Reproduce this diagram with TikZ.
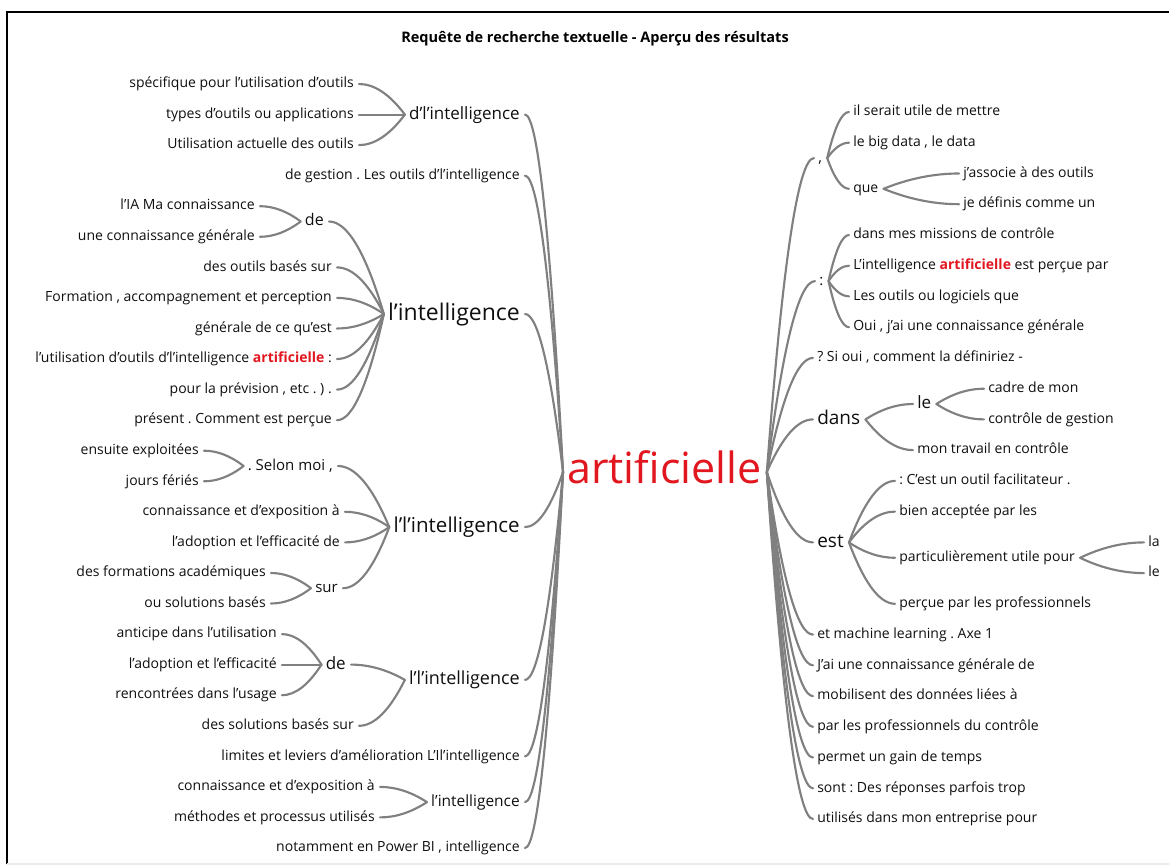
\documentclass[tikz,border=0pt]{standalone}
\usepackage{fontspec}
\setmainfont{Open Sans}
\usetikzlibrary{calc}
\definecolor{con}{RGB}{128,128,128}
\definecolor{txt}{RGB}{15,15,15}
\definecolor{hot}{RGB}{226,22,30}
\newcommand\hlw{\textcolor{hot}{\bfseries artificielle}}
% left link: #1 parent, #2 child (child on the left); quadratic curve
\newcommand\Lk[2]{\draw[conn] let \p1=($(#2.east)+(5,0)$), \p2=($(#1.west)+(-4,0)$) in (\p1) .. controls ({\x1+(\x2-\x1)/3},\y1) and ({\x2-(\x2-\x1)/3},{\y2+2*(\y1-\y2)/3}) .. (\p2);}
% right link: #1 parent, #2 child (child on the right); quadratic curve
\newcommand\Rk[2]{\draw[conn] let \p1=($(#1.east)+(5,0)$), \p2=($(#2.west)+(-4,0)$) in (\p1) .. controls ({\x1+(\x2-\x1)/3},{\y1+2*(\y2-\y1)/3}) and ({\x2-(\x2-\x1)/3},\y2) .. (\p2);}
\begin{document}
\frenchspacing
\begin{tikzpicture}[x=0.75pt,y=-0.75pt,
  every node/.style={inner sep=0pt, text depth=0pt, text=txt},
  conn/.style={draw=con, line width=1.6pt, line cap=round},
  lf/.style={font=\fontsize{10.5pt}{12pt}\selectfont, text height=5.6pt},
  m15/.style={font=\fontsize{11.25pt}{13pt}\selectfont, text height=6pt},
  m155/.style={font=\fontsize{11.6pt}{13pt}\selectfont, text height=6.2pt},
  m16/.style={font=\fontsize{12pt}{14pt}\selectfont, text height=6.4pt},
  m17/.style={font=\fontsize{12.75pt}{14pt}\selectfont, text height=6.8pt},
  m18/.style={font=\fontsize{13.5pt}{15pt}\selectfont, text height=7.2pt},
  m19/.style={font=\fontsize{14.25pt}{16pt}\selectfont, text height=7.6pt},
  m20/.style={font=\fontsize{15.4pt}{17pt}\selectfont, text height=8.2pt},
  m23/.style={font=\fontsize{17.25pt}{19pt}\selectfont, text height=9.2pt},
  big/.style={font=\fontsize{32.25pt}{36pt}\selectfont, text height=17.3pt, text=hot},
  ttl/.style={font=\bfseries\fontsize{10.9pt}{13pt}\selectfont, text=black},
  le/.style={anchor=east},
  ri/.style={anchor=west}]
\useasboundingbox (0,0) rectangle (1169,866);
% frame
\draw[black, line width=1.2pt] (7,864) coordinate (fb) -- (7,12) coordinate (ftl) -- (1169,12) coordinate (ftr);
\draw[black!8, line width=0.8pt] (fb) -- (1169,864);
% title
\node[ttl] (title) at (595,37) {Requête de recherche textuelle - Aperçu des résultats};
% centre
\node[big, ri] (C) at (567,472) {artificielle};

% ---------------- left side ----------------
\node[m17, le] (L1) at (520,114.6) {d'l'intelligence};
\node[lf, le] (L1a) at (354,84.0) {spécifique pour l'utilisation d'outils};
\node[lf, le] (L1b) at (354,114.6) {types d'outils ou applications};
\node[lf, le] (L1c) at (354,145.1) {Utilisation actuelle des outils};
\node[lf, le] (L2) at (520,175.7) {de gestion . Les outils d'l'intelligence};

\node[m23, le] (L3) at (520,314) {l'intelligence};
\node[m16, le] (L3a) at (324,221.5) {de};
\node[lf, le] (L3a1) at (255,206.2) {l'IA Ma connaissance};
\node[lf, le] (L3a2) at (255,236.8) {une connaissance générale};
\node[lf, le] (L3b) at (332,267.4) {des outils basés sur};
\node[lf, le] (L3c) at (332,297.9) {Formation , accompagnement et perception};
\node[lf, le] (L3d) at (332,328.5) {générale de ce qu'est};
\node[lf, le] (L3e) at (332,359.0) {l'utilisation d'outils d'l'intelligence \hlw\ :};
\node[lf, le] (L3f) at (332,389.6) {pour la prévision , etc . ) .};
\node[lf, le] (L3g) at (332,420.2) {présent . Comment est perçue};

\node[m20, le] (L4) at (520,527.1) {l'l'intelligence};
\node[m15, le] (L4a) at (333,466.0) {. Selon moi ,};
\node[lf, le] (L4a1) at (199,450.7) {ensuite exploitées};
\node[lf, le] (L4a2) at (199,481.3) {jours fériés};
\node[lf, le] (L4b) at (340,511.8) {connaissance et d'exposition à};
\node[lf, le] (L4c) at (340,542.4) {l'adoption et l'efficacité de};
\node[m15, le] (L4d) at (338,588.2) {sur};
\node[lf, le] (L4d1) at (266,573.0) {des formations académiques};
\node[lf, le] (L4d2) at (266,603.5) {ou solutions basés};

\node[m18, le] (L5) at (520,679.9) {l'l'intelligence};
\node[m17, le] (L5a) at (346,664.6) {de};
\node[lf, le] (L5a1) at (277,634.1) {anticipe dans l'utilisation};
\node[lf, le] (L5a2) at (277,664.6) {l'adoption et l'efficacité};
\node[lf, le] (L5a3) at (277,695.2) {rencontrées dans l'usage};
\node[lf, le] (L5b) at (354,725.8) {des solutions basés sur};

\node[lf, le] (L6) at (520,756.3) {limites et leviers d'amélioration L'Il'intelligence};
\node[m155, le] (L7) at (520,802.1) {l'intelligence};
\node[lf, le] (L7a) at (375,786.9) {connaissance et d'exposition à};
\node[lf, le] (L7b) at (375,817.4) {méthodes et processus utilisés};
\node[lf, le] (L8) at (520,848.0) {notamment en Power BI , intelligence};

% ---------------- right side ----------------
\node[m15, ri] (R1) at (818,158.1) {,};
\node[lf, ri] (R1a) at (853,112.0) {il serait utile de mettre};
\node[lf, ri] (R1b) at (853,142.7) {le big data , le data};
\node[lf, ri] (R1c) at (853,188.8) {que};
\node[lf, ri] (R1c1) at (963,173.5) {j'associe à des outils};
\node[lf, ri] (R1c2) at (963,204.2) {je définis comme un};

\node[m15, ri] (R2) at (819,281.1) {:};
\node[lf, ri] (R2a) at (853,235.0) {dans mes missions de contrôle};
\node[lf, ri] (R2b) at (853,265.7) {L'intelligence \hlw\ est perçue par};
\node[lf, ri] (R2c) at (853,296.4) {Les outils ou logiciels que};
\node[lf, ri] (R2d) at (853,327.2) {Oui , j'ai une connaissance générale};

\node[lf, ri] (R3) at (817,357.9) {? Si oui , comment la définiriez -};

\node[m19, ri] (R4) at (817,419.4) {dans};
\node[m17, ri] (R4a) at (917,404.0) {le};
\node[lf, ri] (R4a1) at (988,388.7) {cadre de mon};
\node[lf, ri] (R4a2) at (988,419.4) {contrôle de gestion};
\node[lf, ri] (R4b) at (917,450.1) {mon travail en contrôle};

\node[m19, ri] (R5) at (817,542.4) {est};
\node[lf, ri] (R5a) at (899,480.9) {: C'est un outil facilitateur .};
\node[lf, ri] (R5b) at (899,511.6) {bien acceptée par les};
\node[lf, ri] (R5c) at (899,557.8) {particulièrement utile pour};
\node[lf, ri] (R5c1) at (1148,542.4) {la};
\node[lf, ri] (R5c2) at (1148,573.1) {le};
\node[lf, ri] (R5d) at (899,603.8) {perçue par les professionnels};

\node[lf, ri] (R6) at (817,634.6) {et machine learning . Axe 1};
\node[lf, ri] (R7) at (817,665.3) {J'ai une connaissance générale de};
\node[lf, ri] (R8) at (817,696.1) {mobilisent des données liées à};
\node[lf, ri] (R9) at (817,726.8) {par les professionnels du contrôle};
\node[lf, ri] (R10) at (817,757.5) {permet un gain de temps};
\node[lf, ri] (R11) at (817,788.3) {sont : Des réponses parfois trop};
\node[lf, ri] (R12) at (817,819.0) {utilisés dans mon entreprise pour};

% ---------------- connectors ----------------
\foreach \q in {L1,L2,L3,L4,L5,L6,L7,L8} {\Lk{C}{\q}}
\foreach \q in {L1a,L1b,L1c} {\Lk{L1}{\q}}
\foreach \q in {L3a,L3b,L3c,L3d,L3e,L3f,L3g} {\Lk{L3}{\q}}
\foreach \q in {L3a1,L3a2} {\Lk{L3a}{\q}}
\foreach \q in {L4a,L4b,L4c,L4d} {\Lk{L4}{\q}}
\foreach \q in {L4a1,L4a2} {\Lk{L4a}{\q}}
\foreach \q in {L4d1,L4d2} {\Lk{L4d}{\q}}
\foreach \q in {L5a,L5b} {\Lk{L5}{\q}}
\foreach \q in {L5a1,L5a2,L5a3} {\Lk{L5a}{\q}}
\foreach \q in {L7a,L7b} {\Lk{L7}{\q}}

\foreach \q in {R1,R2,R3,R4,R5,R6,R7,R8,R9,R10,R11,R12} {\Rk{C}{\q}}
\foreach \q in {R1a,R1b,R1c} {\Rk{R1}{\q}}
\foreach \q in {R1c1,R1c2} {\Rk{R1c}{\q}}
\foreach \q in {R2a,R2b,R2c,R2d} {\Rk{R2}{\q}}
\foreach \q in {R4a,R4b} {\Rk{R4}{\q}}
\foreach \q in {R4a1,R4a2} {\Rk{R4a}{\q}}
\foreach \q in {R5a,R5b,R5c,R5d} {\Rk{R5}{\q}}
\foreach \q in {R5c1,R5c2} {\Rk{R5c}{\q}}
\end{tikzpicture}
\end{document}
